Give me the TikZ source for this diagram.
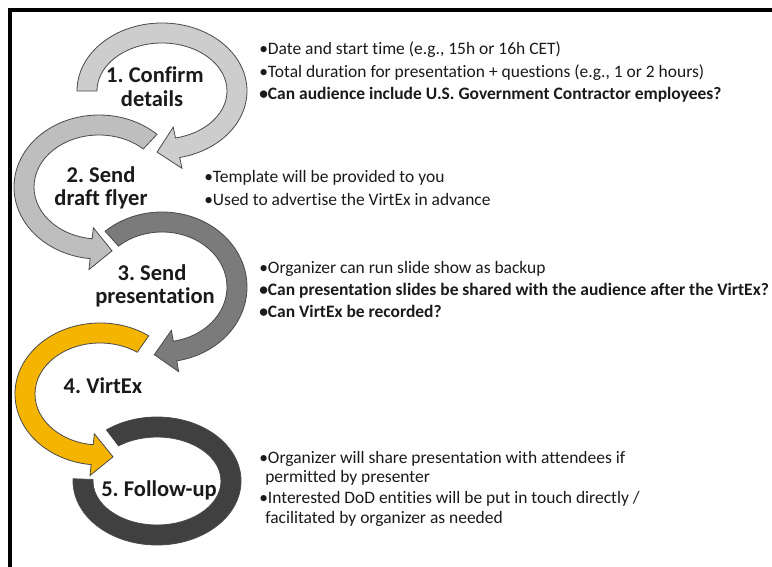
\documentclass[tikz,border=0pt]{standalone}
\usepackage{fontspec}
\setmainfont{Carlito}[Ligatures={NoCommon,NoContextual}]
\frenchspacing
\usetikzlibrary{calc}
\definecolor{edgegray}{HTML}{4A4A4A}
\definecolor{ringA}{HTML}{CDCDCD}
\definecolor{ringB}{HTML}{BEBEBE}
\definecolor{ringC}{HTML}{7B7B7B}
\definecolor{ringD}{HTML}{F4B400}
\definecolor{ringE}{HTML}{404040}
\definecolor{txt}{HTML}{1A1A1A}
% #1 prefix, #2 cx, #3 cy, #4 outer rx, #5 outer ry, #6 tail angle, #7 head angle, #8 colour, #9 tip turn
\newcommand\ringarrow[9]{%
  \pgfmathsetmacro\rxi{#4-20}\pgfmathsetmacro\ryi{#5-20}%
  \coordinate (#1c) at (#2,#3);
  \coordinate (#1i) at ([shift={(#1c)}]#7:\rxi\space and \ryi);
  \coordinate (#1o) at ([shift={(#1c)}]#7:#4 and #5);
  \coordinate (#1m) at ($(#1i)!0.5!(#1o)$);
  \coordinate (#1b) at ($(#1m)!15.75pt!(#1o)$);
  \coordinate (#1a) at ($(#1m)!15.75pt!(#1i)$);
  \coordinate (#1t) at ($(#1m)!15.75pt!#9:(#1o)$);
  \filldraw[ring, fill=#8] ([shift={(#1c)}]#6:#4 and #5)
    arc[start angle=#6, end angle=#7, x radius=#4, y radius=#5]
    -- (#1b) -- (#1t) -- (#1a) -- (#1i)
    arc[start angle=#7, end angle=#6, x radius=\rxi, y radius=\ryi] -- cycle;
}
\begin{document}
\begin{tikzpicture}[x=0.75pt, y=0.75pt,
  ring/.style={draw=edgegray, line width=0.6pt, line join=miter},
  lab/.style={font=\fontsize{16.9}{17.6}\selectfont\bfseries, text=txt, inner sep=0pt, anchor=base},
  bul/.style={font=\fontsize{13.1}{14.6}\selectfont, text=txt, inner sep=0pt, anchor=base west},
  bulb/.style={bul, font=\fontsize{13.1}{14.6}\selectfont\bfseries}]
\fill[white] (0,0) rectangle (772,-567);
\useasboundingbox (0,0) rectangle (772,-567);
% frame
\coordinate (fbl) at (10,-567);
\coordinate (ftl) at (10,-10);
\coordinate (ftr) at (772,-10);
\draw[line width=2.4pt, line join=miter] (fbl) -- (ftl) -- (ftr);
% ring 5 (no head)
\coordinate (e5c) at (157,-481);
\filldraw[ring, fill=ringE] ([shift={(e5c)}]127:84 and 64)
  arc[start angle=127, end angle=-182, x radius=84, y radius=64]
  -- ([shift={(e5c)}]-182:64 and 44)
  arc[start angle=-182, end angle=127, x radius=64, y radius=44] -- cycle;
% ring arrows
\ringarrow{d4}{100}{-394}{85}{71}{55}{264}{ringD}{90}
\ringarrow{c3}{162}{-287}{85}{75}{132}{-80}{ringC}{-90}
\ringarrow{b2}{99}{-187}{85}{72}{47}{264}{ringB}{90}
\ringarrow{a1}{162}{-91}{85}{68}{180}{-78}{ringA}{-90}
% labels
\node[lab] (l1a) at (155,-83) {1. Confirm};
\node[lab] (l1b) at (152,-107) {details};
\node[lab] (l2a) at (101,-182) {2. Send};
\node[lab] (l2b) at (101,-205) {draft flyer};
\node[lab] (l3a) at (152,-280) {3. Send};
\node[lab] (l3b) at (155,-303) {presentation};
\node[lab] (l4) at (103,-393) {4. VirtEx};
\node[lab] (l5) at (159,-496) {5. Follow-up};
% bullets
\node[bul] (t11) at (259,-55) {•Date and start time (e.g., 15h or 16h CET)};
\node[bul] (t12) at (259,-78) {•Total duration for presentation + questions (e.g., 1 or 2 hours)};
\node[bulb] (t13) at (259,-100) {•Can audience include U.S. Government Contractor employees?};
\node[bul] (t21) at (204,-182) {•Template will be provided to you};
\node[bul] (t22) at (204,-205) {•Used to advertise the VirtEx in advance};
\node[bul] (t31) at (259,-273) {•Organizer can run slide show as backup};
\node[bulb] (t32) at (259,-295) {•Can presentation slides be shared with the audience after the VirtEx?};
\node[bulb] (t33) at (259,-317) {•Can VirtEx be recorded?};
\node[bul] (t41) at (259,-463) {•Organizer will share presentation with attendees if};
\node[bul] (t41b) at (265,-482) {permitted by presenter};
\node[bul] (t42) at (259,-503) {•Interested DoD entities will be put in touch directly /};
\node[bul] (t42b) at (265,-523) {facilitated by organizer as needed};
\end{tikzpicture}
\end{document}
